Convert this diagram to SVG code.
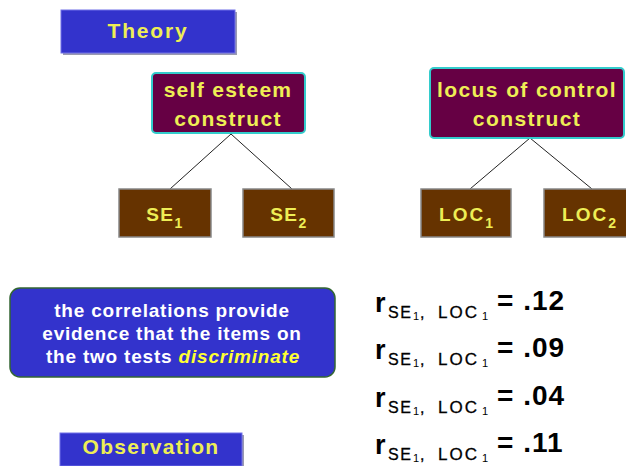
<svg xmlns="http://www.w3.org/2000/svg" width="626" height="466" viewBox="0 0 626 466">
<style>
.lbl{font-family:"Liberation Sans",Arial,sans-serif;font-weight:bold;fill:#eeee55;text-anchor:middle}
.blue{fill:#3333cc;stroke:#7070e8;stroke-width:1}
.shadow{fill:#9a9ab0}
.cons{fill:#660044;stroke:#33cccc;stroke-width:2}
.item{fill:#663300;stroke:#888888;stroke-width:1.5}
.eq{font-family:"Liberation Sans",Arial,sans-serif;font-weight:bold;fill:#000}
.r{font-size:27px}
.s{font-size:16px;letter-spacing:1.5px;font-weight:normal;stroke:#000;stroke-width:0.3}
.l{font-size:17px;letter-spacing:2px;font-weight:normal;stroke:#000;stroke-width:0.3}
.ss{font-size:11px;font-weight:normal}
.v{font-size:28px;letter-spacing:1px}
.note{font-family:"Liberation Sans",Arial,sans-serif;font-weight:bold;fill:#ffffff;text-anchor:middle;font-size:19px;letter-spacing:0.8px}
.conn line{stroke:#222;stroke-width:1}
</style>
<rect width="626" height="466" fill="#ffffff"/>
<g id="theory">
<rect class="shadow" x="63" y="12" width="174" height="43"/>
<rect class="blue" x="61" y="10" width="174" height="43"/>
<text class="lbl" x="148" y="38" font-size="21" letter-spacing="1.8">Theory</text>
</g>
<g class="conn" id="connectors">
<line x1="231" y1="134" x2="170" y2="189"/>
<line x1="231" y1="134" x2="292" y2="189"/>
<line x1="530" y1="138" x2="470" y2="189"/>
<line x1="530" y1="138" x2="592" y2="189"/>
</g>
<g id="self-esteem">
<rect class="cons" x="152" y="73" width="153" height="60" rx="4"/>
<text class="lbl" x="228" y="97" font-size="21" letter-spacing="1.3">self esteem</text>
<text class="lbl" x="228" y="126" font-size="21" letter-spacing="1.3">construct</text>
</g>
<g id="locus">
<rect class="cons" x="430" y="68" width="194" height="70" rx="4"/>
<text class="lbl" x="527" y="97" font-size="21" letter-spacing="1.4">locus of control</text>
<text class="lbl" x="527" y="126" font-size="21" letter-spacing="1.4">construct</text>
</g>
<g id="se1">
<rect class="item" x="119" y="189" width="92" height="48"/>
<text class="lbl" x="165" y="221" font-size="19" letter-spacing="1.5">SE<tspan font-size="14" dy="7">1</tspan></text>
</g>
<g id="se2">
<rect class="item" x="243" y="189" width="91" height="48"/>
<text class="lbl" x="289" y="221" font-size="19" letter-spacing="1.5">SE<tspan font-size="14" dy="7">2</tspan></text>
</g>
<g id="loc1">
<rect class="item" x="421" y="189" width="90" height="48"/>
<text class="lbl" x="467" y="221" font-size="19" letter-spacing="2">LOC<tspan font-size="14" dy="7">1</tspan></text>
</g>
<g id="loc2">
<rect class="item" x="544" y="189" width="90" height="48"/>
<text class="lbl" x="590" y="221" font-size="19" letter-spacing="2">LOC<tspan font-size="14" dy="7">2</tspan></text>
</g>
<g id="note">
<rect x="10" y="288" width="325" height="89" rx="10" fill="#3333cc" stroke="#336633" stroke-width="1.5"/>
<text class="note" x="172" y="317">the correlations provide</text>
<text class="note" x="172" y="340">evidence that the items on</text>
<text class="note" x="173" y="363">the two tests <tspan font-style="italic" fill="#ffff33">discriminate</tspan></text>
</g>
<g id="equations">
<text class="eq"><tspan class="r" x="375" y="312">r</tspan><tspan class="s" x="388" y="318">SE</tspan><tspan class="ss" x="413" y="320">1</tspan><tspan class="s" x="420" y="318">,</tspan><tspan class="l" x="438" y="318">LOC</tspan><tspan class="ss" x="482" y="320">1</tspan></text>
<text class="eq v" x="497" y="310">= .12</text>
<text class="eq"><tspan class="r" x="375" y="359">r</tspan><tspan class="s" x="388" y="365">SE</tspan><tspan class="ss" x="413" y="367">1</tspan><tspan class="s" x="420" y="365">,</tspan><tspan class="l" x="438" y="365">LOC</tspan><tspan class="ss" x="482" y="367">1</tspan></text>
<text class="eq v" x="497" y="357">= .09</text>
<text class="eq"><tspan class="r" x="375" y="407">r</tspan><tspan class="s" x="388" y="413">SE</tspan><tspan class="ss" x="413" y="415">1</tspan><tspan class="s" x="420" y="413">,</tspan><tspan class="l" x="438" y="413">LOC</tspan><tspan class="ss" x="482" y="415">1</tspan></text>
<text class="eq v" x="497" y="405">= .04</text>
<text class="eq"><tspan class="r" x="375" y="454">r</tspan><tspan class="s" x="388" y="460">SE</tspan><tspan class="ss" x="413" y="462">1</tspan><tspan class="s" x="420" y="460">,</tspan><tspan class="l" x="438" y="460">LOC</tspan><tspan class="ss" x="482" y="462">1</tspan></text>
<text class="eq v" x="497" y="452">= .11</text>
</g>
<g id="observation">
<rect class="shadow" x="62" y="435" width="182" height="33"/>
<rect class="blue" x="60" y="433" width="182" height="33"/>
<text class="lbl" x="151" y="454" font-size="21" letter-spacing="1.3">Observation</text>
</g>
</svg>
